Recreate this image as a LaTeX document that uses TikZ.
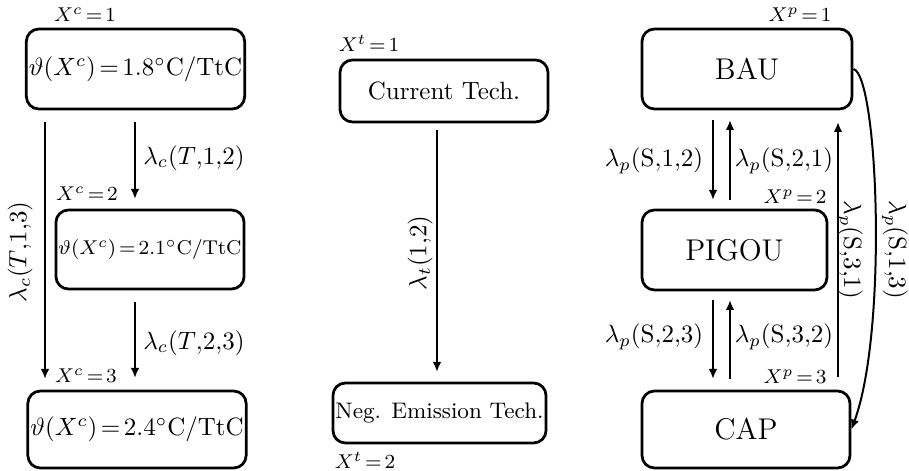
\documentclass[tikz,border=0pt]{standalone}
\usetikzlibrary{arrows.meta}
\thickmuskip=2.5mu plus 1mu
\begin{document}
\begin{tikzpicture}[x=0.4pt,y=-0.4pt,
  box/.style={draw, line width=1.1pt, rounded corners=5pt, inner sep=1pt, align=center},
  arr/.style={-{Latex[length=4pt,width=3.4pt]}, line width=0.8pt},
  st/.style={font=\footnotesize, inner sep=0pt},
  lab/.style={inner sep=0pt, font=\fontsize{9.6}{11}\selectfont}]
\useasboundingbox (0,0) rectangle (909,471);
% ---------- left column ----------
\node[box, minimum width=83.6pt, minimum height=32pt, font=\fontsize{9.6}{11}\selectfont] (c1) at (135.5,69) {$\vartheta(X^c) = 1.8^\circ\mathrm{C/TtC}$};
\node[box, minimum width=73.6pt, minimum height=31.6pt, font=\fontsize{8.4}{10}\selectfont] (c2) at (150,249.5) {$\vartheta(X^c) = 2.1^\circ\mathrm{C/TtC}$};
\node[box, minimum width=84pt, minimum height=30.8pt, font=\fontsize{9.6}{11}\selectfont] (c3) at (137,429.5) {$\vartheta(X^c) = 2.4^\circ\mathrm{C/TtC}$};
\node[st] (sc1) at (85,15) {$X^c = 1$};
\node[st] (sc2) at (87,194) {$X^c = 2$};
\node[st] (sc3) at (86,376) {$X^c = 3$};
\coordinate (a13s) at (45,122); \coordinate (a13e) at (45,379);
\coordinate (a12s) at (135,122); \coordinate (a12e) at (135,199);
\coordinate (a23s) at (135,302); \coordinate (a23e) at (135,378);
\draw[arr] (a13s) -- (a13e);
\draw[arr] (a12s) -- (a12e);
\draw[arr] (a23s) -- (a23e);
\node[lab, rotate=90] (l13) at (20,252) {$\lambda_c(T{,}1{,}3)$};
\node[lab] (l12) at (194,158) {$\lambda_c(T{,}1{,}2)$};
\node[lab] (l23) at (194,343) {$\lambda_c(T{,}2{,}3)$};
% ---------- middle column ----------
\node[box, minimum width=83.2pt, minimum height=24.8pt] (t1) at (444,91) {Current Tech.};
\node[box, minimum width=83.6pt, minimum height=24pt, font=\small] (t2) at (439.5,413) {Neg. Emission Tech.};
\node[st] (st1) at (369,43) {$X^t = 1$};
\node[st] (st2) at (365,460) {$X^t = 2$};
\coordinate (tas) at (437,130); \coordinate (tae) at (437,372);
\draw[arr] (tas) -- (tae);
\node[lab, rotate=90] (lt) at (420,253) {$\lambda_t(1{,}2)$};
% ---------- right column ----------
\node[box, minimum width=84pt, minimum height=32pt, font=\large] (p1) at (747,69) {BAU};
\node[box, minimum width=74pt, minimum height=32pt, font=\large] (p2) at (734.5,250) {PIGOU};
\node[box, minimum width=83.2pt, minimum height=30.8pt, font=\large] (p3) at (746,429.5) {CAP};
\node[st] (sp1) at (800,15) {$X^p = 1$};
\node[st] (sp2) at (795,197) {$X^p = 2$};
\node[st] (sp3) at (795,377) {$X^p = 3$};
\coordinate (d12s) at (713,120); \coordinate (d12e) at (713,200);
\coordinate (u21s) at (730,200); \coordinate (u21e) at (730,120);
\coordinate (d23s) at (713,300); \coordinate (d23e) at (713,379);
\coordinate (u32s) at (730,379); \coordinate (u32e) at (730,300);
\coordinate (u31s) at (838,377); \coordinate (u31e) at (838,122);
\draw[arr] (d12s) -- (d12e);
\draw[arr] (u21s) -- (u21e);
\draw[arr] (d23s) -- (d23e);
\draw[arr] (u32s) -- (u32e);
\draw[arr] (u31s) -- (u31e);
\draw[arr] (p1.east) .. controls (878,75) and (888,330) .. (p3.east);
\node[lab] (lp12) at (654,161) {$\lambda_p(\mathrm{S}{,}1{,}2)$};
\node[lab] (lp21) at (784,161) {$\lambda_p(\mathrm{S}{,}2{,}1)$};
\node[lab] (lp23) at (654,337) {$\lambda_p(\mathrm{S}{,}2{,}3)$};
\node[lab] (lp32) at (784,337) {$\lambda_p(\mathrm{S}{,}3{,}2)$};
\node[lab, rotate=-90] (lp31) at (850,250) {$\lambda_p(\mathrm{S}{,}3{,}1)$};
\node[lab, rotate=-90] (lp13) at (895,250) {$\lambda_p(\mathrm{S}{,}1{,}3)$};
\end{tikzpicture}
\end{document}
